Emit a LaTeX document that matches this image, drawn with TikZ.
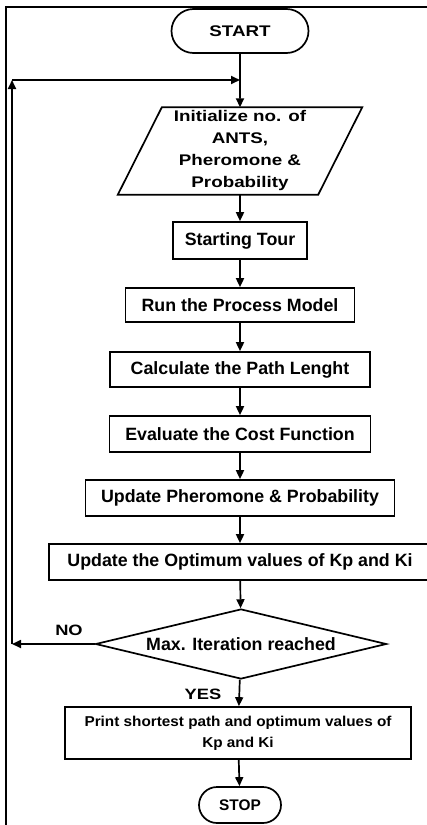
\documentclass[tikz,border=0pt]{standalone}
\usepackage{fontspec}
\setmainfont{Liberation Sans}
\newfontfamily\widesans[FakeStretch=1.22]{Liberation Sans}
\newfontfamily\midsans[FakeStretch=1.07]{Liberation Sans}
\usetikzlibrary{arrows.meta,shapes.geometric,shapes.misc}

\begin{document}
\begin{tikzpicture}[x=1pt,y=-1pt,
  every node/.style={font=\bfseries},
  flow/.style={line width=1.7pt, -{Triangle[length=9pt,width=8pt]}},
  box/.style={draw, line width=1.7pt, rectangle, inner sep=0pt, align=center,
    font=\fontsize{17.8}{20}\selectfont\bfseries},
  term/.style={draw, line width=1.7pt, rounded rectangle, inner sep=0pt},
  lbl/.style={font=\widesans\fontsize{15}{18}\selectfont\bfseries},
]
\clip (0,0) rectangle (427,825);

% outer frame (left and top edges)
\draw[line width=2.5pt] (6,830) -- (6,7) -- (440,7);

% terminals, steps and decision
\node[term, minimum width=137pt, minimum height=44pt,
  font=\widesans\fontsize{15.4}{18}\selectfont\bfseries] (start) at (240,31) {START};

\node[minimum width=200pt, minimum height=87pt, inner sep=0pt, align=center,
  font=\widesans\fontsize{15.4}{22}\selectfont\bfseries] (init) at (240,151)
  {Initialize no. of\\ANTS,\\Pheromone \&\\Probability};
\draw[line width=1.7pt] ([xshift=22pt]init.north west) -- ([xshift=22pt]init.north east)
  -- ([xshift=-22pt]init.south east) -- ([xshift=-22pt]init.south west) -- cycle;

\node[box, minimum width=134pt, minimum height=37pt] (tour) at (240,240.5) {Starting Tour};
\node[box, minimum width=229pt, minimum height=34pt] (run) at (240,305) {Run the Process Model};
\node[box, minimum width=260pt, minimum height=35pt] (calc) at (240,369.5) {Calculate the Path Lenght};
\node[box, minimum width=261pt, minimum height=36pt] (eval) at (240,434) {Evaluate the Cost Function};
\node[box, minimum width=309pt, minimum height=36pt] (pher) at (240,498) {Update Pheromone \& Probability};
\node[box, minimum width=382pt, minimum height=36pt] (opt) at (240,562) {Update the Optimum values of Kp and Ki};

\node[draw, diamond, line width=1.7pt, minimum width=291pt, minimum height=70pt,
  inner sep=0pt, aspect=4.2, font=\fontsize{17.8}{20}\selectfont\bfseries] (dec) at (241,644)
  {Max. Iteration reached};

\node[box, minimum width=346pt, minimum height=52pt,
  font=\midsans\fontsize{14.3}{21}\selectfont\bfseries] (print) at (238,733)
  {Print shortest path and optimum values of\\Kp and Ki};

\node[term, minimum width=82pt, minimum height=36pt,
  font=\fontsize{15.4}{18}\selectfont\bfseries] (stop) at (240,805) {STOP};

% branch labels
\node[lbl] (no) at (69,630) {NO};
\node[lbl] (yes) at (203,694) {YES};

% main flow
\draw[flow] (start) -- (init);
\draw[flow] (init) -- (tour);
\draw[flow] (tour) -- (run);
\draw[flow] (run) -- (calc);
\draw[flow] (calc) -- (eval);
\draw[flow] (eval) -- (pher);
\draw[flow] (pher) -- (opt);
\draw[flow] (opt) -- (dec);
\draw[flow] (dec) -- (print);
\draw[flow] (print) -- (stop);

% loop back on NO
\coordinate (c1) at (12,644);
\coordinate (c2) at (12,80);
\coordinate (j) at (240,80);
\draw[flow] (dec.west) -- (c1);
\draw[flow] (c1) -- (c2);
\draw[flow] (c2) -- (j);
\end{tikzpicture}
\end{document}
